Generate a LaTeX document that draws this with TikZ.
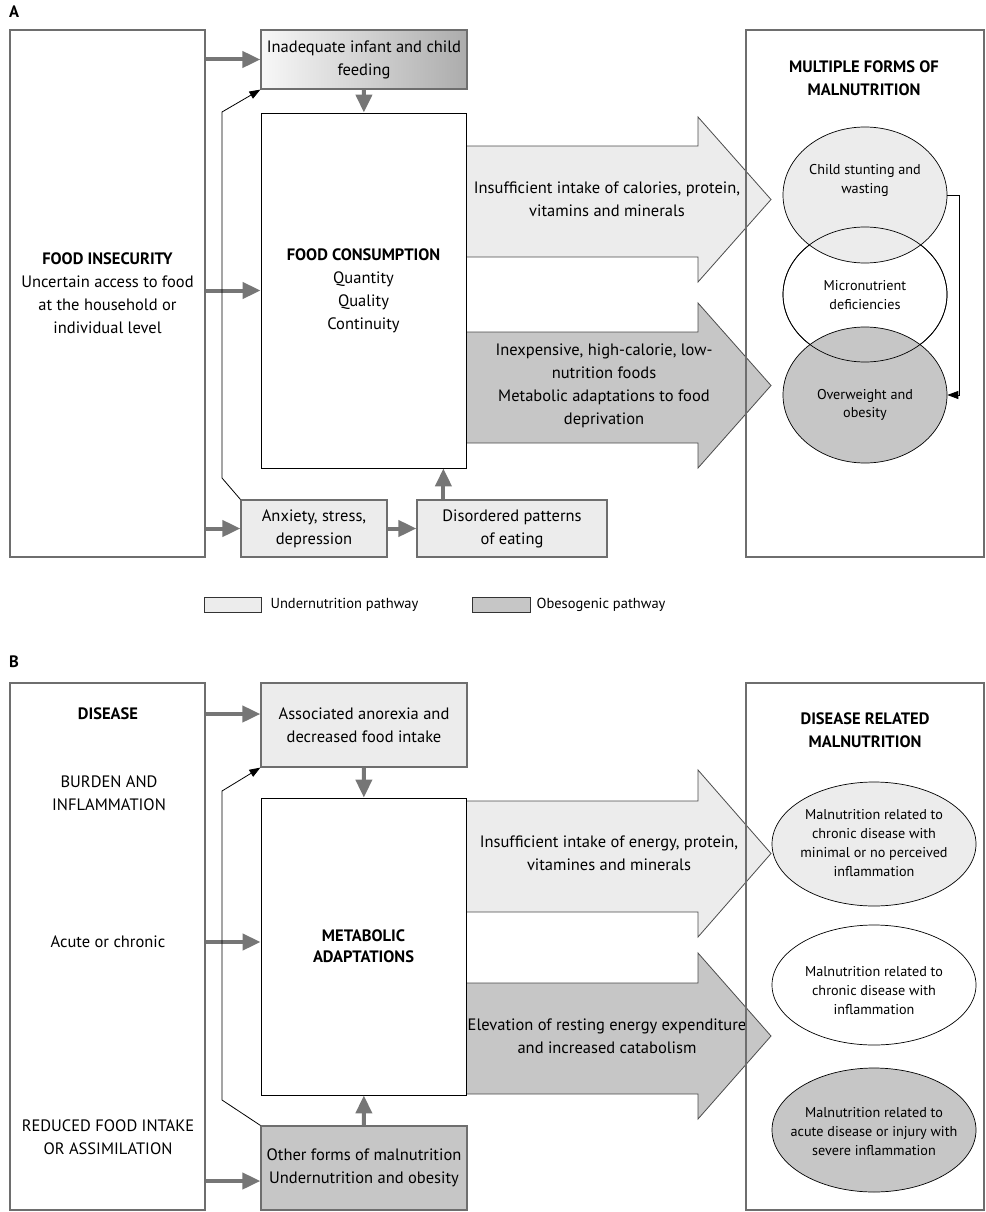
\documentclass[tikz,border=0pt]{standalone}
\usepackage{fontspec}
\setmainfont{PT Sans}
\usetikzlibrary{positioning}
\usetikzlibrary{arrows.meta}
\usetikzlibrary{shapes.geometric}

\definecolor{undercol}{HTML}{ECECEC}
\definecolor{obesecol}{HTML}{C6C6C6}
\definecolor{linecol}{HTML}{6E6E6E}
\definecolor{flowcol}{HTML}{767676}

\begin{document}
\begin{tikzpicture}[x=1pt,y=-1pt,
			txt/.style={font=\fontsize{16.5}{23}\selectfont,align=center,inner sep=0pt},
			head/.style={txt,font=\fontsize{16.5}{23}\selectfont\bfseries},
			small/.style={font=\fontsize{14.2}{18.5}\selectfont,align=center,inner sep=0pt},
			box/.style={txt,rectangle,draw=linecol,line width=1.2pt},
			core/.style={txt,rectangle,draw=black,line width=0.8pt,fill=white},
			under/.style={box,fill=undercol},
			obese/.style={box,fill=obesecol},
			oval/.style={ellipse,draw=black,line width=0.7pt,inner sep=0pt},
			fat/.style={draw=black!70,line width=0.8pt},
			flow/.style={draw=flowcol,line width=4pt,-{Triangle[length=18pt,width=16pt,fill=flowcol]}},
			link/.style={draw=black,line width=0.8pt,-{Triangle[length=11pt,width=8pt]}},
			keytxt/.style={font=\fontsize{14.5}{15}\selectfont,inner sep=0pt}]
			\useasboundingbox (0,0) rectangle (985,1212);

			% panel A
			\node[head] (labA) at (14,12) {A};
			\node[box,minimum width=195pt,minimum height=527pt] (insec) at (107.5,293.5) {\textbf{FOOD INSECURITY}\\Uncertain access to food\\at the household or\\individual level};
			\node[box,minimum width=206pt,minimum height=59pt,left color=gray!6,right color=gray!65] (feed) at (364,59.5) {Inadequate infant and child\\feeding};
			\filldraw[fat,fill=undercol] (466,146) -- (698,146) -- (698,117) -- (771,199.5) -- (698,282) -- (698,257) -- (466,257);
			\filldraw[fat,fill=obesecol] (466,332) -- (698,332) -- (698,303) -- (771,385.5) -- (698,468) -- (698,443) -- (466,443);
			\node[core,minimum width=205pt,minimum height=355pt] (cons) at (363.5,290.5) {\textbf{FOOD CONSUMPTION}\\Quantity\\Quality\\Continuity};
			\node[txt] (lowA) at (607,199.5) {Insufficient intake of calories, protein,\\vitamins and minerals};
			\node[txt] (highA) at (604,385.5) {Inexpensive, high-calorie, low-\\nutrition foods\\Metabolic adaptations to food\\deprivation};
			\node[under,minimum width=146pt,minimum height=57pt] (anx) at (314,528.5) {Anxiety, stress,\\depression};
			\node[under,minimum width=190pt,minimum height=57pt] (disord) at (512,528.5) {Disordered patterns\\of eating};
			\node[box,minimum width=238pt,minimum height=527pt] (forms) at (865,293.5) {};
			\node[head] (formsT) at (864,78.5) {MULTIPLE FORMS OF\\MALNUTRITION};
			\node[oval,fill=white,minimum width=164pt,minimum height=135pt] (micro) at (865,294.5) {};
			\node[oval,fill=undercol,minimum width=164pt,minimum height=136pt] (stunt) at (865,195) {};
			\node[oval,fill=obesecol,minimum width=164pt,minimum height=136pt] (over) at (865,395) {};
			\draw[line width=0.7pt] (micro.center) ellipse [x radius=82, y radius=67.5];
			\node[small] (stuntT) at (865,180.5) {Child stunting and\\wasting};
			\node[small] (microT) at (865,295) {Micronutrient\\deficiencies};
			\node[small] (overT) at (865,405) {Overweight and\\obesity};
			\draw[link] (stunt.east) -- ++(12,0) |- (over.east);
			\draw[flow] (insec.east |- feed.west) -- (feed.west);
			\draw[flow] (insec.east |- cons.west) -- (cons.west);
			\draw[flow] (insec.east |- anx.west) -- (anx.west);
			\draw[flow] (anx) -- (disord);
			\draw[flow] (feed) -- (cons);
			\coordinate (eatup) at ([xshift=27pt]disord.north west);
			\draw[flow] (eatup) -- (eatup |- cons.south);
			\draw[link] (anx.north west) -- (222,478) -- (222,112) -- (feed.south west);

			% key
			\node[under,line width=0.8pt,draw=black!80,minimum width=57pt,minimum height=15pt] (keyU) at (232.5,604.5) {};
			\node[keytxt,right=9pt of keyU] (keyUT) {Undernutrition pathway};
			\node[obese,line width=0.8pt,draw=black!80,minimum width=58pt,minimum height=15pt] (keyO) at (501,604.5) {};
			\node[keytxt,right=6pt of keyO] (keyOT) {Obesogenic pathway};

			% panel B
			\node[head] (labB) at (14,662) {B};
			\node[box,minimum width=195pt,minimum height=527pt] (dis) at (107.5,946.5) {};
			\node[head] (disT) at (108,714) {DISEASE};
			\node[txt] (burden) at (109,793.5) {BURDEN AND\\INFLAMMATION};
			\node[txt] (acute) at (108,942) {Acute or chronic};
			\node[txt] (reduced) at (108,1137.5) {REDUCED FOOD INTAKE\\OR ASSIMILATION};
			\node[under,minimum width=206pt,minimum height=84pt] (anor) at (364,725) {Associated anorexia and\\decreased food intake};
			\filldraw[fat,fill=undercol] (466,801) -- (698,801) -- (698,770) -- (771,853.5) -- (698,937) -- (698,912) -- (466,912);
			\filldraw[fat,fill=obesecol] (466,983) -- (698,983) -- (698,953) -- (771,1036) -- (698,1119) -- (698,1094) -- (466,1094);
			\node[core,minimum width=205pt,minimum height=297pt,font=\fontsize{16.5}{21}\selectfont\bfseries] (meta) at (363.5,946.5) {METABOLIC\\ADAPTATIONS};
			\node[obese,minimum width=206pt,minimum height=84pt] (other) at (364,1168) {Other forms of malnutrition\\Undernutrition and obesity};
			\node[txt] (lowB) at (609,853.5) {Insufficient intake of energy, protein,\\vitamines and minerals};
			\node[txt] (highB) at (607,1036) {Elevation of resting energy expenditure\\and increased catabolism};
			\node[box,minimum width=238pt,minimum height=527pt] (rel) at (865,946.5) {};
			\node[head] (relT) at (865,730.5) {DISEASE RELATED\\MALNUTRITION};
			\node[oval,fill=undercol,minimum width=204pt,minimum height=124pt] (chronic) at (874,844) {};
			\node[oval,fill=white,minimum width=204pt,minimum height=120pt] (inflam) at (874,985) {};
			\node[oval,fill=obesecol,minimum width=204pt,minimum height=124pt] (acuteM) at (874,1130) {};
			\node[small,font=\fontsize{14.2}{19}\selectfont] (chronicT) at (874,843.5) {Malnutrition related to\\chronic disease with\\minimal or no perceived\\inflammation};
			\node[small,font=\fontsize{14.2}{19}\selectfont] (inflamT) at (874,991) {Malnutrition related to\\chronic disease with\\inflammation};
			\node[small,font=\fontsize{14.2}{19}\selectfont] (acuteMT) at (874,1132) {Malnutrition related to\\acute disease or injury with\\severe inflammation};
			\draw[flow] (dis.east |- disT) -- (disT -| anor.west);
			\draw[flow] (dis.east |- acute) -- (acute -| meta.west);
			\coordinate (otherin) at ([yshift=-13pt]other.west);
			\draw[flow] (dis.east |- otherin) -- (otherin);
			\draw[flow] (anor) -- (meta);
			\draw[flow] (other) -- (meta);
			\draw[link] (other.north west) -- (222,1100) -- (222,791) -- (anor.south west);
		\end{tikzpicture}
\end{document}
